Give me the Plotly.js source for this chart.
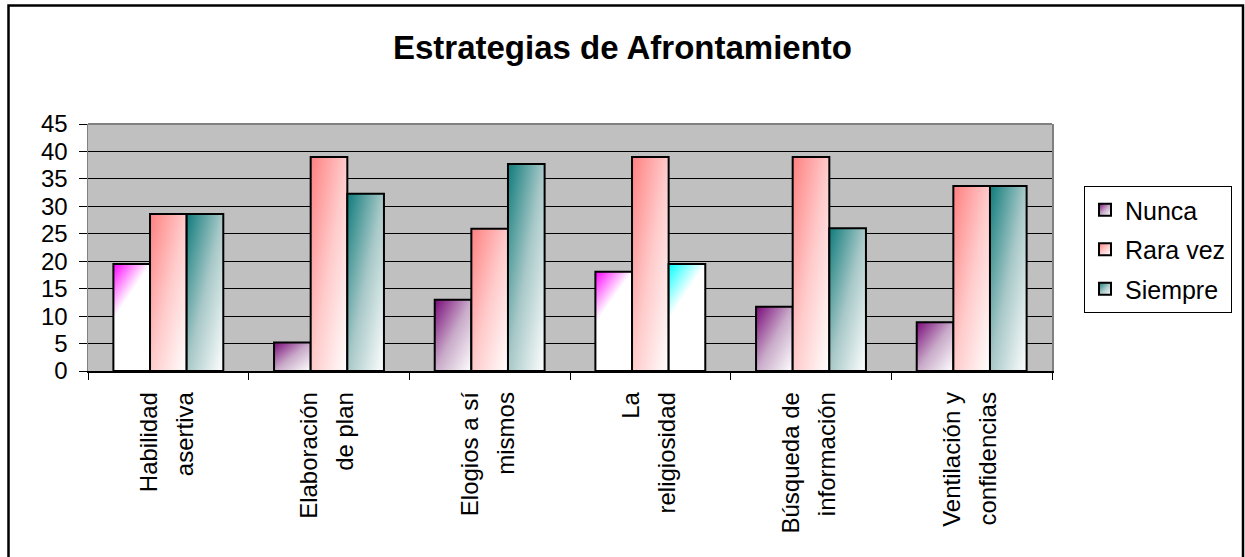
<!DOCTYPE html>
<html>
<head>
<meta charset="utf-8">
<script src="https://cdn.plot.ly/plotly-3.0.1.min.js"></script>
<style>
  html, body { margin: 0; padding: 0; background: #ffffff; }
  #chart { width: 1245px; height: 557px; }
</style>
</head>
<body>
<div id="chart"></div>
<script>
// ---- Data ----
const categories = [
  "Habilidad<br>asertiva",
  "Elaboración<br>de plan",
  "Elogios a sí<br>mismos",
  "La<br>religiosidad",
  "Búsqueda de<br>información",
  "Ventilación y<br>confidencias"
];
const seriesNames = ["Nunca", "Rara vez", "Siempre"];
const nunca   = [19.5, 5.2, 13.0, 18.1, 11.7, 8.9];
const raraVez = [28.6, 39.0, 25.9, 39.0, 39.0, 33.7];
const siempre = [28.6, 32.3, 37.7, 19.5, 26.0, 33.7];
const yTickValues = [0, 5, 10, 15, 20, 25, 30, 35, 40, 45];

// ---- Styles ----
const baseColors = ["#7a0a7a", "#ff8080", "#0f7b7b"];
const midColors  = ["#c8aac8", "#ffcaca", "#a8c8c8"];
// bars rendered with a bright corner flash in the original (trace-index, bar-index)
const flashBars = { "0-0": "#ff00ff", "0-3": "#ff00ff", "2-3": "#00ffff" };

const FONT = "Liberation Sans, Arial, sans-serif";
const L = 88, R = 1052, T = 124, B = 371;
const W = 1245, H = 557;
const pw = R - L, ph = B - T;
function px2x(p) { return (p - L) / pw; }
function py2y(p) { return (B - p) / ph; }

const allSeries = [nunca, raraVez, siempre];
const data = allSeries.map((vals, i) => ({
  type: "bar",
  name: seriesNames[i],
  x: categories,
  y: vals,
  legendgroup: "g" + i,
  marker: { color: baseColors[i], line: { color: "#000000", width: 2 } },
  hoverinfo: "skip"
}));

const layout = {
  width: W, height: H,
  margin: { l: L, r: W - R, t: T, b: H - B, pad: 0 },
  paper_bgcolor: "#ffffff",
  plot_bgcolor: "#c0c0c0",
  font: { family: FONT, color: "#000000", size: 22 },
  title: {
    text: "<b>Estrategias de Afrontamiento</b>",
    font: { family: FONT, size: 33, color: "#000000" },
    x: 0.5, xref: "container", xanchor: "center",
    y: 1 - 47 / H, yref: "container", yanchor: "middle"
  },
  barmode: "group",
  bargap: 0.316,
  bargroupgap: 0,
  showlegend: true,
  legend: {
    x: px2x(1084), y: py2y(186), xanchor: "left", yanchor: "top",
    bgcolor: "#ffffff", bordercolor: "#000000", borderwidth: 1,
    font: { family: FONT, size: 25, color: "#000000" },
    traceorder: "grouped", tracegroupgap: 4,
    itemclick: false
  },
  xaxis: {
    type: "category",
    tickangle: -90,
    tickson: "boundaries",
    ticks: "outside", ticklen: 7, tickcolor: "#000000", tickwidth: 1,
    showline: true, linecolor: "#000000", linewidth: 1.5,
    showgrid: false,
    tickfont: { family: FONT, size: 24, color: "#000000" },
    ticklabelstandoff: 10,
    fixedrange: true
  },
  yaxis: {
    range: [0, 45],
    tickvals: yTickValues,
    ticktext: yTickValues.map(String),
    ticks: "outside", ticklen: 8, tickcolor: "#000000", tickwidth: 1,
    showline: true, linecolor: "#808080", linewidth: 1.5, mirror: true,
    showgrid: true, gridcolor: "#000000", gridwidth: 1,
    zeroline: false,
    tickfont: { family: FONT, size: 24, color: "#000000" },
    ticklabelstandoff: 6,
    fixedrange: true
  },
  shapes: [
    { type: "line", xref: "paper", yref: "paper", x0: 0, x1: 1, y0: 1, y1: 1,
      line: { color: "#808080", width: 2 }, layer: "above" },
    { type: "rect", xref: "paper", yref: "paper",
      x0: px2x(8.5), x1: px2x(1243), y0: py2y(5.5), y1: py2y(600),
      line: { color: "#000000", width: 2.5 }, fillcolor: "rgba(0,0,0,0)", layer: "above" }
  ]
};

const gd = document.getElementById("chart");
Plotly.newPlot(gd, data, layout, { staticPlot: true, displayModeBar: false }).then(() => {
  applyGradients();
  spreadTickLines();
});

function applyGradients() {
  const NS = "http://www.w3.org/2000/svg";
  const svg = gd.querySelector("svg.main-svg");
  let defs = svg.querySelector("defs");
  if (!defs) { defs = document.createElementNS(NS, "defs"); svg.insertBefore(defs, svg.firstChild); }
  function grad(id, stops, x2, y2) {
    const g = document.createElementNS(NS, "linearGradient");
    g.setAttribute("id", id);
    g.setAttribute("x1", "0"); g.setAttribute("y1", "0");
    g.setAttribute("x2", String(x2)); g.setAttribute("y2", String(y2));
    stops.forEach(([off, col]) => {
      const s = document.createElementNS(NS, "stop");
      s.setAttribute("offset", String(off));
      s.setAttribute("stop-color", col);
      g.appendChild(s);
    });
    defs.appendChild(g);
  }
  baseColors.forEach((c, i) => {
    grad("grad" + i, [[0, c], [0.5, midColors[i]], [1, "#ffffff"]], 1, 1);
  });
  Object.keys(flashBars).forEach(k => {
    grad("flash" + k, [[0, flashBars[k]], [1, "#ffffff"]], 0.21, 0.41);
  });
  const traces = gd.querySelectorAll(".barlayer .trace");
  traces.forEach((tr, i) => {
    tr.querySelectorAll(".point path").forEach((p, j) => {
      const key = i + "-" + j;
      p.style.fill = flashBars[key] ? "url(#flash" + key + ")" : "url(#grad" + i + ")";
    });
  });
  gd.querySelectorAll(".legend .traces").forEach((tr, i) => {
    tr.querySelectorAll(".legendpoints path").forEach(p => {
      p.style.fill = "url(#grad" + i + ")";
    });
  });
}

// wider line spacing for the two-line rotated category labels
function spreadTickLines() {
  gd.querySelectorAll(".xaxislayer-above .xtick").forEach(g => {
    const lines = g.querySelectorAll("tspan.line");
    if (lines.length < 2) return;
    for (let k = 1; k < lines.length; k++) lines[k].setAttribute("dy", "1.5em");
    const prev = g.getAttribute("transform") || "";
    g.setAttribute("transform", prev + " translate(-4,0)");
  });
}
</script>
</body>
</html>
